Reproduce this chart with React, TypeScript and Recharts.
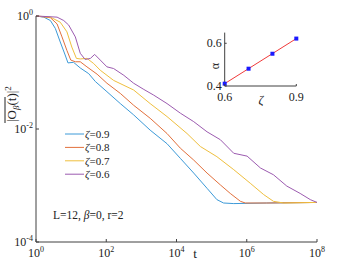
import React from "react";
import { LineChart, Line, XAxis, YAxis, ComposedChart, Scatter } from "recharts";

// log10(t) and log10(|O|^2)
const zetas = ["0.9", "0.8", "0.7", "0.6"];
const colors = ["#3d9ad8", "#e2703c", "#efbf3e", "#9c5bb0"];

const logT09 = [0, 0.22, 0.41, 0.55, 0.69, 0.83, 0.91, 1.07, 1.26, 1.5, 1.69, 2.02, 2.4, 2.78, 3.25, 3.73, 4.11, 4.49, 4.87, 5.15, 5.34, 5.63, 6.57, 8.0];
const logO09 = [0, -0.02, -0.08, -0.22, -0.46, -0.69, -0.83, -0.82, -0.92, -1.02, -1.16, -1.34, -1.55, -1.75, -2.02, -2.26, -2.52, -2.78, -3.05, -3.25, -3.31, -3.32, -3.31, -3.3];

const logT08 = [0, 0.41, 0.6, 0.74, 0.88, 0.99, 1.12, 1.26, 1.45, 1.74, 2.02, 2.4, 2.78, 3.25, 3.73, 4.11, 4.49, 4.87, 5.25, 5.53, 5.82, 5.96, 6.57, 8.0];
const logO08 = [0, -0.03, -0.14, -0.37, -0.61, -0.78, -0.81, -0.81, -0.9, -1.03, -1.19, -1.37, -1.58, -1.81, -2.08, -2.34, -2.55, -2.78, -2.99, -3.14, -3.28, -3.31, -3.31, -3.3];

const logT07 = [0, 0.41, 0.69, 0.88, 1.02, 1.15, 1.26, 1.45, 1.64, 1.83, 2.21, 2.78, 3.25, 3.73, 4.3, 4.68, 5.15, 5.63, 6.1, 6.48, 6.76, 7.05, 8.0];
const logO07 = [0, -0.02, -0.11, -0.28, -0.55, -0.75, -0.76, -0.75, -0.84, -0.96, -1.14, -1.31, -1.55, -1.78, -2.08, -2.31, -2.49, -2.72, -2.96, -3.16, -3.28, -3.31, -3.3];

const logT06 = [0, 0.6, 0.79, 0.93, 1.12, 1.26, 1.4, 1.55, 1.67, 1.83, 2.02, 2.21, 2.5, 2.78, 3.07, 3.35, 3.73, 4.11, 4.49, 4.87, 5.25, 5.63, 6.01, 6.39, 6.76, 7.14, 7.52, 7.81, 8.0];
const logO06 = [0, -0.02, -0.08, -0.16, -0.37, -0.66, -0.77, -0.75, -0.68, -0.78, -0.9, -0.93, -1.05, -1.19, -1.3, -1.4, -1.55, -1.72, -1.87, -2.05, -2.19, -2.43, -2.48, -2.69, -2.81, -3.01, -3.14, -3.25, -3.3];

const xTicks = [1, 1e2, 1e4, 1e6, 1e8];
const yTicks = [1e-4, 1e-2, 1];

// inset: exponent alpha vs zeta
const insetZeta = [0.6, 0.7, 0.8, 0.9];
const insetAlpha = [0.411, 0.481, 0.551, 0.622];
const fitZeta = [0.6, 0.9];
const fitAlpha = [0.411, 0.622];

const logTs = [logT09, logT08, logT07, logT06];
const logOs = [logO09, logO08, logO07, logO06];
const series = zetas.map((z, i) => ({
  name: `ζ=${z}`,
  color: colors[i],
  data: logTs[i].map((lt, j) => ({ t: 10 ** lt, o: 10 ** logOs[i][j] })),
}));
const points = insetZeta.map((z, i) => ({ z, a: insetAlpha[i] }));
const fit = fitZeta.map((z, i) => ({ z, a: fitAlpha[i] }));

const font = "'Liberation Serif', 'Times New Roman', serif";
const axisColor = "#404040";

const XTick = (props: any) => {
  const { x, y, payload } = props;
  const e = Math.round(Math.log10(payload.value));
  return (
    <g>
      <line x1={x} x2={x} y1={y} y2={y - 3} stroke={axisColor} />
      <text x={x} y={y + 15} textAnchor="middle" fontFamily={font} fontSize={12} fill="#222">
        10<tspan dy={-5} fontSize={8}>{e}</tspan>
      </text>
    </g>
  );
};

const YTick = (props: any) => {
  const { x, y, payload } = props;
  const e = Math.round(Math.log10(payload.value));
  return (
    <g>
      <line x1={x} x2={x + 3} y1={y} y2={y} stroke={axisColor} />
      <text x={x - 3} y={y + 4} textAnchor="end" fontFamily={font} fontSize={12} fill="#222">
        10<tspan dy={-5} fontSize={8}>{e}</tspan>
      </text>
    </g>
  );
};

const TopTick = (props: any) => {
  const { x, y } = props;
  return <line x1={x} x2={x} y1={y} y2={y + 3} stroke={axisColor} />;
};

const RightTick = (props: any) => {
  const { x, y } = props;
  return <line x1={x} x2={x - 3} y1={y} y2={y} stroke={axisColor} />;
};

const InsetXTick = (props: any) => {
  const { x, y, payload } = props;
  return (
    <g>
      <line x1={x} x2={x} y1={y} y2={y - 2} stroke={axisColor} />
      <text x={x} y={y + 15} textAnchor="middle" fontFamily={font} fontSize={12} fill="#222">
        {payload.value.toFixed(1)}
      </text>
    </g>
  );
};

const InsetYTick = (props: any) => {
  const { x, y, payload } = props;
  return (
    <g>
      <line x1={x} x2={x + 2} y1={y} y2={y} stroke={axisColor} />
      <text x={x - 3} y={y + 4} textAnchor="end" fontFamily={font} fontSize={12} fill="#222">
        {payload.value.toFixed(1)}
      </text>
    </g>
  );
};

const Square = (props: any) => {
  const { cx, cy } = props;
  return <rect x={cx - 2} y={cy - 2} width={4} height={4} fill="#1a1aff" />;
};

export default function App() {
  return (
    <div style={{ position: "absolute", left: 0, top: 0, width: 340, height: 269, background: "#fff" }}>
      <LineChart width={340} height={269} margin={{ top: 16, right: 23, bottom: 0, left: 0 }}>
        <XAxis
          xAxisId="b"
          dataKey="t"
          type="number"
          scale="log"
          domain={[1, 1e8]}
          ticks={xTicks}
          interval={0}
          height={27}
          tickSize={0}
          tickMargin={0}
          tick={<XTick />}
          axisLine={{ stroke: axisColor }}
        />
        <XAxis
          xAxisId="top"
          orientation="top"
          dataKey="t"
          type="number"
          scale="log"
          domain={[1, 1e8]}
          ticks={xTicks}
          interval={0}
          height={0}
          tickSize={0}
          tickMargin={0}
          tick={<TopTick />}
          axisLine={{ stroke: axisColor }}
        />
        <YAxis
          yAxisId="l"
          dataKey="o"
          type="number"
          scale="log"
          domain={[1e-4, 1]}
          ticks={yTicks}
          interval={0}
          width={36}
          tickSize={0}
          tickMargin={0}
          tick={<YTick />}
          axisLine={{ stroke: axisColor }}
        />
        <YAxis
          yAxisId="r"
          orientation="right"
          dataKey="o"
          type="number"
          scale="log"
          domain={[1e-4, 1]}
          ticks={yTicks}
          interval={0}
          width={0}
          tickSize={0}
          tickMargin={0}
          tick={<RightTick />}
          axisLine={{ stroke: axisColor }}
        />
        {series.map((s) => (
          <Line
            key={s.name}
            xAxisId="b"
            yAxisId="l"
            data={s.data}
            dataKey="o"
            name={s.name}
            stroke={s.color}
            strokeWidth={1}
            dot={false}
            type="linear"
            isAnimationActive={false}
          />
        ))}
        {/* legend */}
        {series.map((s, i) => (
          <g key={"lg" + s.name}>
            <line x1={65} x2={84} y1={134 + i * 13.4} y2={134 + i * 13.4} stroke={s.color} strokeWidth={1} />
            <text x={85} y={138 + i * 13.4} fontFamily={font} fontSize={11} fill="#222">
              <tspan fontStyle="italic">ζ</tspan>={zetas[i]}
            </text>
          </g>
        ))}
        <text x={195} y={258} textAnchor="middle" fontFamily={font} fontSize={13} fill="#222">t</text>
        <text x={53} y={219} fontFamily={font} fontSize={11.5} fill="#222">
          L=12, <tspan fontStyle="italic">β</tspan>=0, r=2
        </text>
        <g transform="translate(16,122) rotate(-90)">
          <text x={0} y={0} fontFamily={font} fontSize={13} fill="#222">
            |O<tspan dy={3} fontSize={9} fontStyle="italic">β</tspan>
            <tspan dy={-3}>(t)|</tspan>
            <tspan dy={-5} fontSize={9}>2</tspan>
          </text>
          <line x1={-1} x2={25} y1={-11} y2={-11} stroke="#222" strokeWidth={1} />
        </g>
      </LineChart>

      <div style={{ position: "absolute", left: 196, top: 26 }}>
        <ComposedChart width={110} height={80} margin={{ top: 6.6, right: 9.7, bottom: 0, left: 0 }}>
          <XAxis
            xAxisId="b"
            dataKey="z"
            type="number"
            domain={[0.6, 0.9]}
            ticks={[0.6, 0.9]}
            interval={0}
            height={20}
            tickSize={0}
            tickMargin={0}
            tick={<InsetXTick />}
            axisLine={{ stroke: axisColor }}
          />
          <XAxis xAxisId="top" orientation="top" dataKey="z" type="number" domain={[0.6, 0.9]} height={0} tick={false} tickLine={false} axisLine={{ stroke: "#888" }} />
          <YAxis
            yAxisId="l"
            dataKey="a"
            type="number"
            domain={[0.4, 0.65]}
            ticks={[0.4, 0.6]}
            interval={0}
            width={28.7}
            tickSize={0}
            tickMargin={0}
            tick={<InsetYTick />}
            axisLine={{ stroke: axisColor }}
          />
          <YAxis yAxisId="r" orientation="right" dataKey="a" type="number" domain={[0.4, 0.65]} width={0} tick={false} tickLine={false} axisLine={{ stroke: "#888" }} />
          <Line xAxisId="b" yAxisId="l" data={fit} dataKey="a" stroke="#f03a3a" strokeWidth={1} dot={false} isAnimationActive={false} />
          <Scatter xAxisId="b" yAxisId="l" data={points} dataKey="a" shape={<Square />} isAnimationActive={false} />
          <g transform="translate(23,40) rotate(-90)">
            <text x={0} y={0} fontFamily={font} fontSize={12} fill="#222" textAnchor="middle">α</text>
          </g>
          <text x={65} y={78} fontFamily={font} fontSize={12} fill="#222" textAnchor="middle" fontStyle="italic">ζ</text>
        </ComposedChart>
      </div>
    </div>
  );
}
